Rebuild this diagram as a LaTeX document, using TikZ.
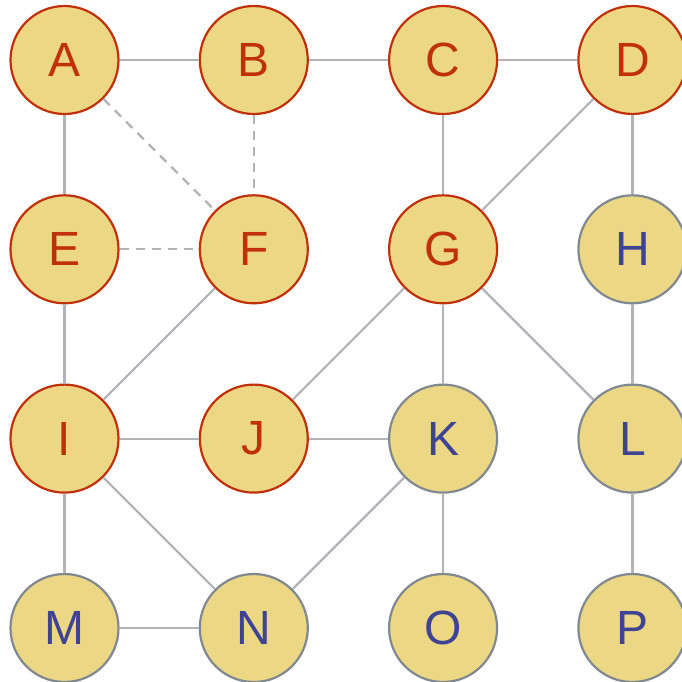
\documentclass[tikz,border=0pt]{standalone}
\usepackage{fontspec}
\setmainfont{Liberation Sans}
\definecolor{nodefill}{HTML}{EBD784}
\definecolor{redline}{HTML}{C0300A}
\definecolor{grayline}{HTML}{808890}
\definecolor{bluetext}{HTML}{3F4394}
\definecolor{edgecol}{HTML}{B0B3B7}
\begin{document}
\begin{tikzpicture}[x=1pt,y=-1pt,
  vtx/.style={circle,minimum size=108pt,inner sep=0pt,fill=nodefill,line width=2.2pt,font=\fontsize{48}{48}\selectfont},
  redv/.style={vtx,draw=redline,text=redline},
  bluev/.style={vtx,draw=grayline,text=bluetext},
  edge/.style={draw=edgecol,line width=2.2pt},
  dedge/.style={edge,dash pattern=on 9pt off 7pt}]
\useasboundingbox (0,0) rectangle (682,681);
\def\xa{64.5}\def\xb{253.8}\def\xc{443.1}\def\xd{632.4}
\def\ya{60}\def\yb{249.3}\def\yc{438.6}\def\yd{628}
\node[redv] (A) at (\xa,\ya) {A};
\node[redv] (B) at (\xb,\ya) {B};
\node[redv] (C) at (\xc,\ya) {C};
\node[redv] (D) at (\xd,\ya) {D};
\node[redv] (E) at (\xa,\yb) {E};
\node[redv] (F) at (\xb,\yb) {F};
\node[redv] (G) at (\xc,\yb) {G};
\node[bluev] (H) at (\xd,\yb) {H};
\node[redv] (I) at (\xa,\yc) {I};
\node[redv] (J) at (\xb,\yc) {J};
\node[bluev] (K) at (\xc,\yc) {K};
\node[bluev] (L) at (\xd,\yc) {L};
\node[bluev] (M) at (\xa,\yd) {M};
\node[bluev] (N) at (\xb,\yd) {N};
\node[bluev] (O) at (\xc,\yd) {O};
\node[bluev] (P) at (\xd,\yd) {P};
\foreach \s/\t in {A/B,B/C,C/D,A/E,C/G,D/G,D/H,E/I,F/I,G/J,G/K,G/L,H/L,I/J,J/K,I/M,I/N,K/N,K/O,L/P,M/N}
  \draw[edge] (\s) -- (\t);
\foreach \s/\t in {A/F,B/F,E/F}
  \draw[dedge] (\s) -- (\t);
\end{tikzpicture}
\end{document}
